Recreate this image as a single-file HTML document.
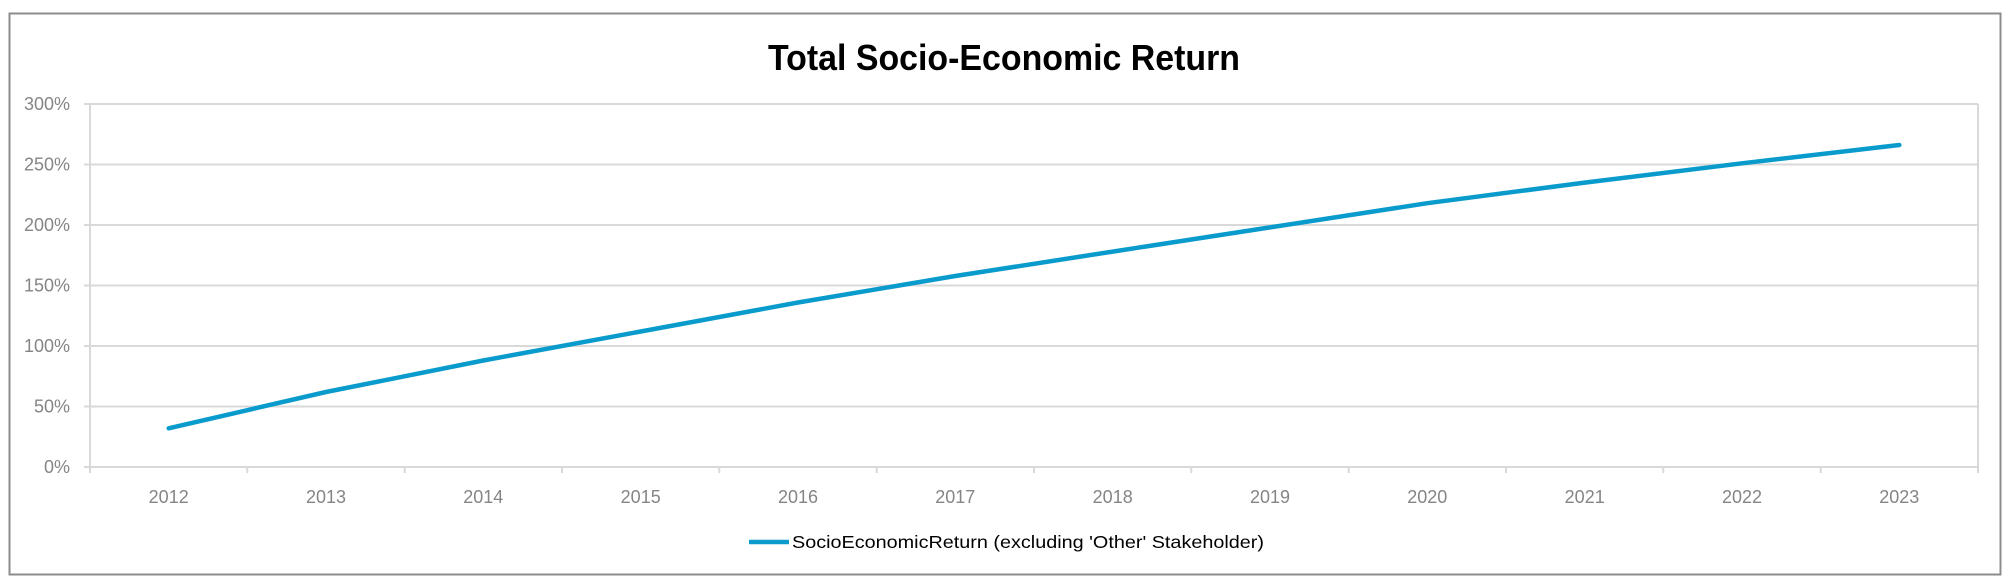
<!DOCTYPE html>
<html><head><meta charset="utf-8"><style>
html,body{margin:0;padding:0;background:#fff;}
svg{display:block;}
</style></head><body>
<svg width="2007" height="586" xmlns="http://www.w3.org/2000/svg" font-family="'Liberation Sans', sans-serif">
<rect x="0" y="0" width="2007" height="586" fill="#fff"/>
<rect x="9.5" y="13.5" width="1991" height="561" fill="#fff" stroke="#8c8c8c" stroke-width="2"/>
<text x="1004" y="70" text-anchor="middle" font-size="36" font-weight="bold" fill="#000" textLength="472" lengthAdjust="spacingAndGlyphs">Total Socio-Economic Return</text>
<g stroke="#d9d9d9" stroke-width="2">
<line x1="84" y1="104" x2="1978" y2="104"/>
<line x1="84" y1="164.5" x2="1978" y2="164.5"/>
<line x1="84" y1="225" x2="1978" y2="225"/>
<line x1="84" y1="285.5" x2="1978" y2="285.5"/>
<line x1="84" y1="346" x2="1978" y2="346"/>
<line x1="84" y1="406.5" x2="1978" y2="406.5"/>
<line x1="84" y1="467" x2="1978" y2="467"/>
<line x1="90" y1="104" x2="90" y2="473"/>
<line x1="1978" y1="104" x2="1978" y2="473"/>
<line x1="247.3" y1="467" x2="247.3" y2="473"/>
<line x1="404.7" y1="467" x2="404.7" y2="473"/>
<line x1="562" y1="467" x2="562" y2="473"/>
<line x1="719.3" y1="467" x2="719.3" y2="473"/>
<line x1="876.7" y1="467" x2="876.7" y2="473"/>
<line x1="1034" y1="467" x2="1034" y2="473"/>
<line x1="1191.3" y1="467" x2="1191.3" y2="473"/>
<line x1="1348.7" y1="467" x2="1348.7" y2="473"/>
<line x1="1506" y1="467" x2="1506" y2="473"/>
<line x1="1663.3" y1="467" x2="1663.3" y2="473"/>
<line x1="1820.7" y1="467" x2="1820.7" y2="473"/>
</g>
<g font-size="18" fill="#858585" text-anchor="end">
<text x="70" y="110">300%</text>
<text x="70" y="170.5">250%</text>
<text x="70" y="231">200%</text>
<text x="70" y="291.5">150%</text>
<text x="70" y="352">100%</text>
<text x="70" y="412.5">50%</text>
<text x="70" y="473">0%</text>
</g>
<g font-size="18" fill="#858585" text-anchor="middle">
<text x="168.7" y="503">2012</text>
<text x="326" y="503">2013</text>
<text x="483.3" y="503">2014</text>
<text x="640.7" y="503">2015</text>
<text x="798" y="503">2016</text>
<text x="955.3" y="503">2017</text>
<text x="1112.7" y="503">2018</text>
<text x="1270" y="503">2019</text>
<text x="1427.3" y="503">2020</text>
<text x="1584.7" y="503">2021</text>
<text x="1742" y="503">2022</text>
<text x="1899.3" y="503">2023</text>
</g>
<polyline fill="none" stroke="#0a9bcd" stroke-width="4.5" stroke-linecap="round" stroke-linejoin="round"
points="168.7,428.3 326,392 483.3,360.5 640.7,331.5 798,302.5 955.3,276 1112.7,251.6 1270,227.4 1427.3,203.2 1584.7,182.6 1742,163.3 1899.3,145"/>
<line x1="749" y1="542" x2="789" y2="542" stroke="#0a9bcd" stroke-width="4.5"/>
<text x="792" y="548" font-size="17.5" fill="#000" textLength="472" lengthAdjust="spacingAndGlyphs">SocioEconomicReturn (excluding 'Other' Stakeholder)</text>
</svg>
</body></html>
